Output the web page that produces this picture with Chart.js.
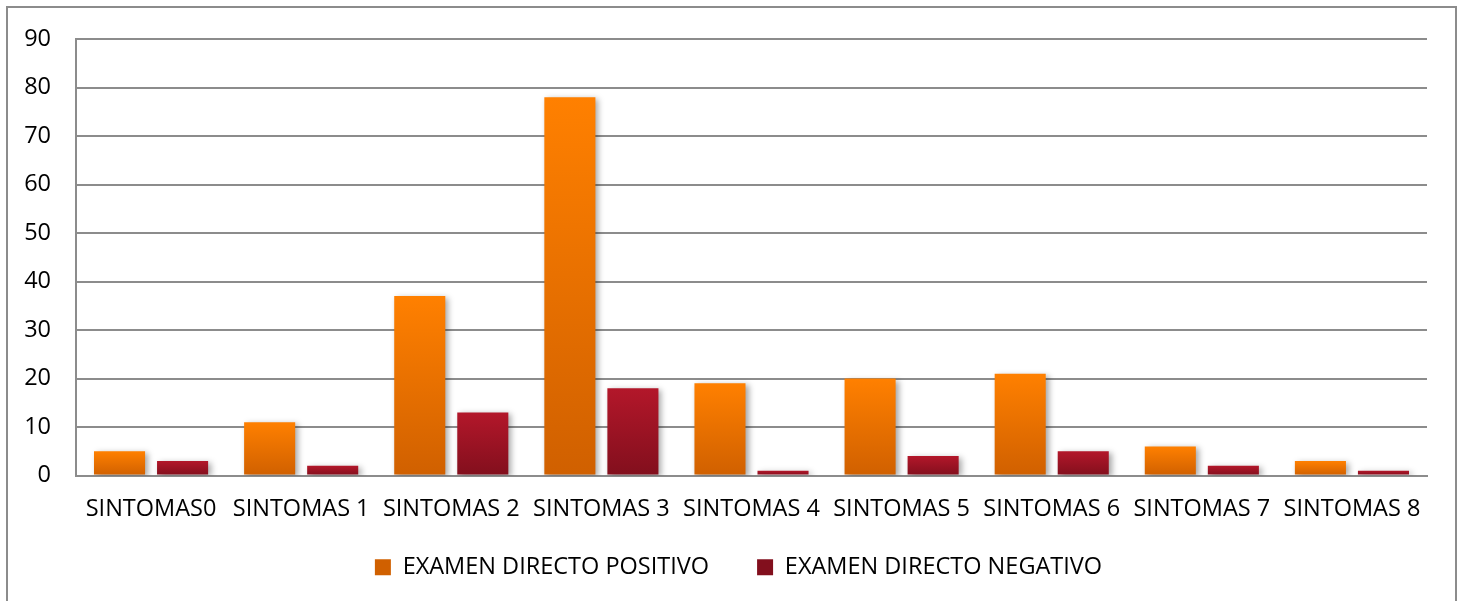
<!DOCTYPE html>
<html>
<head>
<meta charset="utf-8">
<script src="https://cdn.jsdelivr.net/npm/chart.js@4/dist/chart.umd.min.js"></script>
<style>
  html, body { margin: 0; padding: 0; background: #fff; overflow: hidden; }
  #frame { position: absolute; left: 6px; top: 6px; width: 1447px; height: 640px; border: 2px solid #8c8c8c; }
  #wrap { position: absolute; left: 0; top: 0; width: 1459px; height: 601px; }
</style>
</head>
<body>
<div id="frame"></div>
<div id="wrap"><canvas id="myChart"></canvas></div>
<script>
var categories = ["SINTOMAS0", "SINTOMAS 1", "SINTOMAS 2", "SINTOMAS 3", "SINTOMAS 4",
                  "SINTOMAS 5", "SINTOMAS 6", "SINTOMAS 7", "SINTOMAS 8"];
var positivo   = [5, 11, 37, 78, 19, 20, 21, 6, 3];
var negativo   = [3, 2, 13, 18, 1, 4, 5, 2, 1];
var yTicks     = [0, 10, 20, 30, 40, 50, 60, 70, 80, 90];

var fontFamily = "'Open Sans', sans-serif";
var fontSize   = 23.5;

// vertical gradient from the top of each bar down to the zero line
function barGradient(top, bottom, mid) {
  return function(ctx) {
    var chart = ctx.chart;
    if (!chart.chartArea || ctx.type !== 'data') return mid;
    var y    = chart.scales.y.getPixelForValue(ctx.raw),
        base = chart.scales.y.getPixelForValue(0),
        g    = chart.ctx.createLinearGradient(0, y, 0, base);
    g.addColorStop(0, top);
    g.addColorStop(1, bottom);
    return g;
  };
}

var barShadow = {
  id: 'barShadow',
  beforeDatasetsDraw: function(chart) {
    var c = chart.ctx;
    c.save();
    c.shadowColor = 'rgba(0,0,0,0.35)';
    c.shadowBlur = 6;
    c.shadowOffsetX = 3;
    c.shadowOffsetY = 2;
  },
  afterDatasetsDraw: function(chart) {
    chart.ctx.restore();
  }
};

// the wide item spacing also pads the legend vertically, so pull it back up
var legendPlace = {
  id: 'legendPlace',
  afterLayout: function(chart) {
    var lg = chart.legend;
    lg.left += 50;
    lg.top -= 12;
    lg.bottom -= 12;
  }
};

var myChart = new Chart(document.getElementById("myChart"), {
  type: 'bar',
  data: {
    labels: categories,
    datasets: [{
      label: "EXAMEN DIRECTO POSITIVO",
      data: positivo,
      backgroundColor: barGradient("#ff8000", "#d06000", "#f07800"),
      borderWidth: 0,
      categoryPercentage: 0.84,
      barPercentage: 0.81
    }, {
      label: "EXAMEN DIRECTO NEGATIVO",
      data: negativo,
      backgroundColor: barGradient("#b3172a", "#820f1d", "#a51426"),
      borderWidth: 0,
      categoryPercentage: 0.84,
      barPercentage: 0.81
    }]
  },
  options: {
    responsive: true,
    maintainAspectRatio: false,
    animation: false,
    layout: { padding: { left: 0, right: 32, top: 37, bottom: 0 } },
    scales: {
      x: {
        grid: { display: false },
        border: { display: true, color: '#8c8c8c', width: 2 },
        ticks: { color: '#000', font: { family: fontFamily, size: fontSize }, padding: 12, maxRotation: 0, autoSkip: false },
        afterFit: function(scale) { scale.height = 44; }
      },
      y: {
        min: 0,
        max: 90,
        afterBuildTicks: function(scale) {
          scale.ticks = yTicks.map(function(v) { return { value: v }; });
        },
        grid: { color: '#8c8c8c', lineWidth: 2, drawTicks: false },
        border: { display: true, color: '#8c8c8c', width: 2 },
        ticks: { color: '#000', font: { family: fontFamily, size: fontSize }, padding: 25 },
        afterFit: function(scale) { scale.width = 76; }
      }
    },
    plugins: {
      legend: {
        position: 'bottom',
        labels: {
          color: '#000',
          font: { family: fontFamily, size: fontSize },
          boxWidth: 16,
          boxHeight: 16,
          padding: 48
        }
      },
      tooltip: { enabled: false }
    }
  },
  plugins: [barShadow, legendPlace]
});
</script>
</body>
</html>
